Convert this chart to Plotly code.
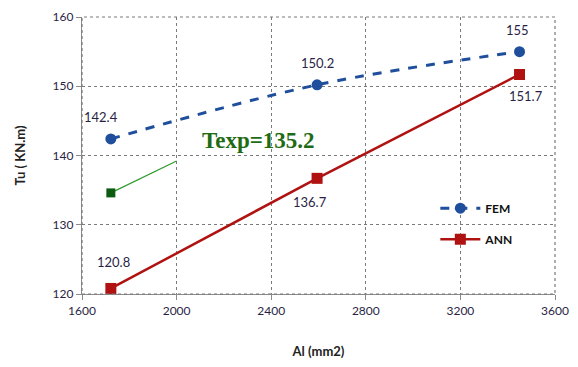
import plotly.graph_objects as go

al_values = [1722, 2594, 3450]
fem_values = [142.4, 150.2, 155.0]
ann_values = [120.8, 136.7, 151.7]
fem_labels = ["142.4", "150.2", "155"]
ann_labels = ["120.8", "136.7", "151.7"]
exp_x = [1722, 2000]
exp_y = [134.6, 139.2]
exp_text = "Texp=135.2"
x_ticks = [1600, 2000, 2400, 2800, 3200, 3600]
y_ticks = [120, 130, 140, 150, 160]

label_color = "#2a1f45"
fig = go.Figure()

fig.add_trace(go.Scatter(x=exp_x, y=exp_y, mode="lines", line=dict(color="#2f9a2f", width=1.2),
                         showlegend=False, hoverinfo="skip"))
fig.add_trace(go.Scatter(x=exp_x[:1], y=exp_y[:1], mode="markers",
                         marker=dict(symbol="square", size=9, color="#0d5a12"),
                         showlegend=False))

fig.add_trace(go.Scatter(x=al_values, y=fem_values, name="<b>FEM</b>", mode="lines+markers",
                         legendgroup="fem",
                         line=dict(color="#1f4e9c", width=3, dash="dash", shape="spline"),
                         marker=dict(symbol="circle", size=11, color="#1f4e9c")))
fig.add_trace(go.Scatter(x=al_values, y=ann_values, name="<b>ANN</b>", mode="lines+markers",
                         legendgroup="ann",
                         line=dict(color="#b01212", width=2.5),
                         marker=dict(symbol="square", size=11, color="#b01212")))

fem_pos = [(-10, -22), (0, -22), (-2, -22)]
ann_pos = [(3, -26), (-7, 24), (6, 22)]
for x, y, t, (dx, dy) in zip(al_values, fem_values, fem_labels, fem_pos):
    fig.add_annotation(x=x, y=y, text=t, showarrow=False, xshift=dx, yshift=-dy,
                       font=dict(family="Lato", size=13, color=label_color))
for x, y, t, (dx, dy) in zip(al_values, ann_values, ann_labels, ann_pos):
    fig.add_annotation(x=x, y=y, text=t, showarrow=False, xshift=dx, yshift=-dy,
                       font=dict(family="Lato", size=13, color=label_color))

fig.add_annotation(x=2345, y=142.2, text="<b>" + exp_text + "</b>", showarrow=False,
                   font=dict(family="Liberation Serif", size=23, color="#1f6b14"))

grid = dict(showgrid=True, gridcolor="#7a7a7a", gridwidth=1.2, griddash="dot",
            showline=True, linecolor="#8a8a8a", linewidth=1.2, mirror=False,
            ticks="outside", ticklen=5, tickcolor="#8a8a8a", zeroline=False,
            automargin=False)

fig.update_layout(
    width=570, height=359,
    margin=dict(l=74, r=23, t=9, b=73),
    paper_bgcolor="white", plot_bgcolor="white",
    xaxis=dict(range=[1600, 3600], tickvals=x_ticks,
               tickfont=dict(family="Lato", size=12, color=label_color),
               title=dict(text="<b>Al (mm2)</b>", font=dict(family="Lato", size=13, color="#222"),
                          standoff=30), **grid),
    yaxis=dict(range=[120, 160], tickvals=y_ticks,
               tickfont=dict(family="Lato", size=12, color=label_color),
               title=dict(text="<b>Tu ( KN.m)</b>", font=dict(family="Lato", size=13, color="#222"),
                          standoff=24), **grid),
    legend=dict(x=0.747, y=0.362, xanchor="left", yanchor="top", bgcolor="rgba(0,0,0,0)",
                font=dict(family="Lato", size=12, color="#111"), tracegroupgap=12,
                itemwidth=40),
    showlegend=True,
)
fig.add_shape(type="rect", xref="paper", yref="paper", x0=0, y0=0, x1=1, y1=1,
              line=dict(color="#7a7a7a", width=1.2, dash="dot"))

fig.write_html("out.html")
